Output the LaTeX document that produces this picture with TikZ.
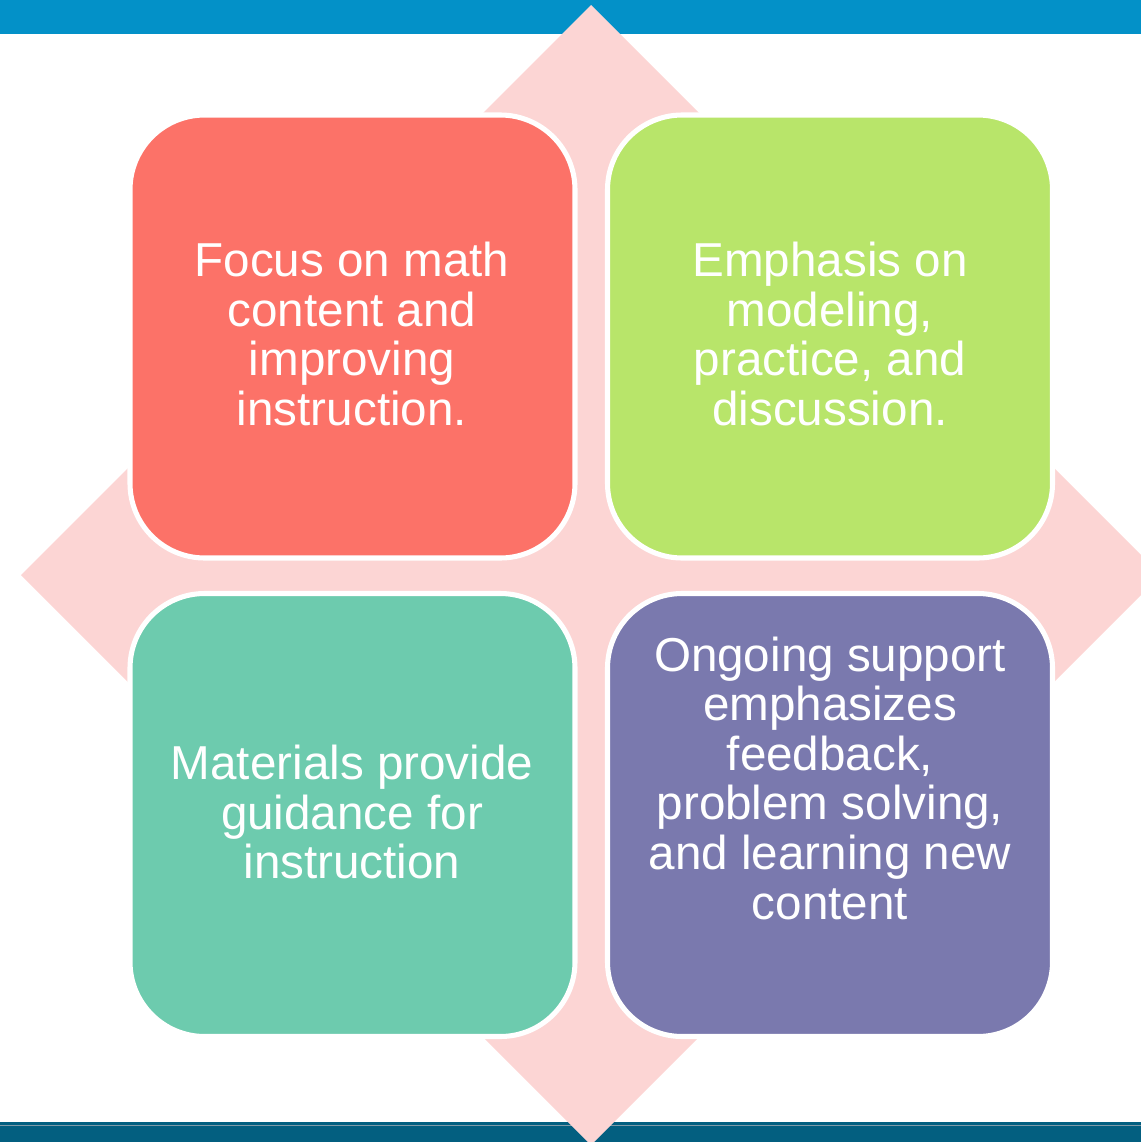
\documentclass[tikz,border=0pt]{standalone}
\usepackage{fontspec}
\setmainfont{Liberation Sans}
\definecolor{topbar}{HTML}{0391C8}
\definecolor{botbar}{HTML}{035F80}
\definecolor{botline}{HTML}{7E9AA8}
\definecolor{pinkbg}{HTML}{FCD5D4}
\definecolor{cred}{HTML}{FC7268}
\definecolor{cgreen}{HTML}{B8E56A}
\definecolor{cteal}{HTML}{6DCBAE}
\definecolor{cpurple}{HTML}{7A79AE}
\begin{document}
\begin{tikzpicture}[x=0.75pt,y=-0.75pt,
  quad/.style={draw=white, line width=3.8pt, rounded corners=56pt,
    minimum width=333.75pt, minimum height=332.25pt, inner sep=0pt},
  txt/.style={align=center, text=white, inner sep=0pt,
    font=\fontsize{35.7}{37.2}\selectfont}]
\useasboundingbox (0,0) rectangle (1141,1142);
\fill[topbar] (0,0) rectangle (1141,34);
\fill[botbar] (0,1122) rectangle (1141,1142);
\fill[botline] (0,1124.5) rectangle (1141,1125.8);
\begin{scope}
\clip (0,0) rectangle (1141,1142);
\fill[pinkbg] (591,5) -- (1161,575) -- (591,1145) -- (21,575) -- cycle;
\end{scope}
\node[quad, fill=cred] (q1) at (352.5,336.5) {};
\node[quad, fill=cgreen] (q2) at (830,336.5) {};
\node[quad, fill=cteal] (q3) at (352.5,815) {};
\node[quad, fill=cpurple] (q4) at (830,815) {};
\node[txt] (t1) at (352,334) {Focus on math\\content and\\improving\\instruction.};
\node[txt] (t2) at (830,334) {Emphasis on\\modeling,\\practice, and\\discussion.};
\node[txt] (t3) at (352,812) {Materials provide\\guidance for\\instruction};
\node[txt] (t4) at (830,778) {Ongoing support\\emphasizes\\feedback,\\problem solving,\\and learning new\\content};
\end{tikzpicture}
\end{document}
